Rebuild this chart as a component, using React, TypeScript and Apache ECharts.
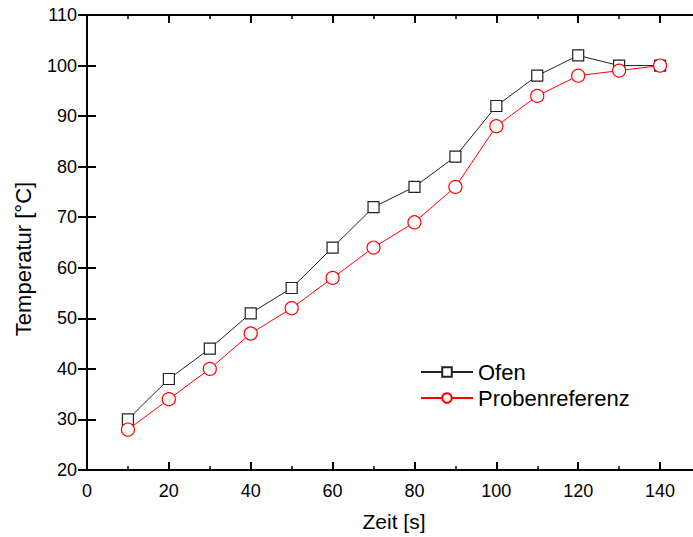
import React, { useEffect, useRef } from "react";
import * as echarts from "echarts";

const zeit = [10, 20, 30, 40, 50, 60, 70, 80, 90, 100, 110, 120, 130, 140];
const ofen = [30, 38, 44, 51, 56, 64, 72, 76, 82, 92, 98, 102, 100, 100];
const probenreferenz = [28, 34, 40, 47, 52, 58, 64, 69, 76, 88, 94, 98, 99, 100];

const FONT = "'Liberation Sans', Arial, sans-serif";

export default function App() {
  const ref = useRef<HTMLDivElement>(null);
  useEffect(() => {
    if (!ref.current) return;
    const chart = echarts.init(ref.current, null, { renderer: "svg" });
    const axisLine = { show: true, lineStyle: { color: "#000", width: 2 } };
    chart.setOption({
      animation: false,
      backgroundColor: "#fff",
      textStyle: { fontFamily: FONT },
      grid: { left: 87, top: 15, right: 1, bottom: 67 },
      graphic: [
        {
          type: "text",
          x: 23,
          y: 259,
          rotation: Math.PI / 2,
          style: {
            text: "Temperatur [°C]",
            fontFamily: FONT,
            fontSize: 22,
            fill: "#000",
            align: "center",
            verticalAlign: "middle",
          },
        },
      ],
      legend: {
        orient: "vertical",
        left: 415,
        top: 356,
        itemWidth: 52,
        itemHeight: 12,
        itemGap: 4,
        textStyle: { fontFamily: FONT, fontSize: 22, color: "#000" },
        data: ["Ofen", "Probenreferenz"],
      },
      xAxis: [
        {
          type: "value",
          min: 0,
          max: 150,
          interval: 20,
          position: "bottom",
          name: "Zeit [s]",
          nameLocation: "middle",
          nameGap: 41,
          nameTextStyle: { fontFamily: FONT, fontSize: 21, color: "#000" },
          axisLine,
          axisTick: { show: true, inside: true, length: 8, lineStyle: { color: "#000", width: 2 } },
          minorTick: { show: true, splitNumber: 2, length: 4, lineStyle: { color: "#000", width: 1.5 } },
          axisLabel: { fontFamily: FONT, fontSize: 18, color: "#000", margin: 12, showMaxLabel: false },
          splitLine: { show: false },
        },
        {
          type: "value",
          min: 0,
          max: 150,
          interval: 20,
          position: "top",
          axisLine,
          axisTick: { show: true, inside: true, length: 8, lineStyle: { color: "#000", width: 2 } },
          minorTick: { show: true, splitNumber: 2, length: 4, lineStyle: { color: "#000", width: 1.5 } },
          axisLabel: { show: false },
          splitLine: { show: false },
        },
      ],
      yAxis: [
        {
          type: "value",
          min: 20,
          max: 110,
          interval: 10,
          position: "left",
          axisLine,
          axisTick: { show: true, inside: true, length: 9, lineStyle: { color: "#000", width: 2 } },
          axisLabel: { fontFamily: FONT, fontSize: 18, color: "#000", margin: 10 },
          splitLine: { show: false },
        },
        {
          type: "value",
          min: 20,
          max: 110,
          interval: 10,
          position: "right",
          axisLine,
          axisTick: { show: true, inside: true, length: 9, lineStyle: { color: "#000", width: 2 } },
          axisLabel: { show: false },
          splitLine: { show: false },
        },
      ],
      series: [
        {
          name: "Ofen",
          type: "line",
          data: zeit.map((x, i) => [x, ofen[i]]),
          symbol: "rect",
          symbolSize: 11,
          color: "#222",
          lineStyle: { color: "#222", width: 1 },
          itemStyle: { color: "#fff", borderColor: "#222", borderWidth: 1.2 },
          z: 3,
        },
        {
          name: "Probenreferenz",
          type: "line",
          data: zeit.map((x, i) => [x, probenreferenz[i]]),
          symbol: "circle",
          symbolSize: 13,
          color: "#ff0000",
          lineStyle: { color: "#ff0000", width: 1 },
          itemStyle: { color: "#fff", borderColor: "#ff0000", borderWidth: 1.2 },
          z: 4,
        },
      ],
    });
    return () => chart.dispose();
  }, []);
  return (
    <div
      style={{ position: "absolute", left: 0, top: 0, width: 693, height: 537, overflow: "hidden", background: "#fff" }}
    >
      <div ref={ref} style={{ width: 702, height: 537 }} />
    </div>
  );
}
